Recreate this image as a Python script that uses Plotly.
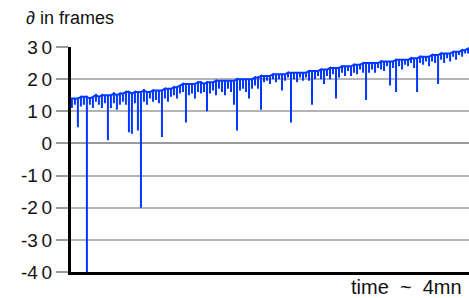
import plotly.graph_objects as go

# per time step (~1.8 s each): highest and lowest delay seen in that step, in frames
top_frames = [
    14, 14, 14, 14.5, 14.5, 14.5, 14, 14.5, 15, 14.5,
    15, 15, 15, 15, 15.5, 15, 15.5, 15.5, 16, 16,
    15.5, 16, 16, 16, 16.5, 16, 16, 16.5, 16.5, 16.5,
    16.5, 17, 17, 17, 17.5, 17.5, 18, 18.5, 18.5, 18.5,
    18.5, 18.5, 19, 19, 18.5, 19, 19, 19, 19.5, 19.5,
    19.5, 19.5, 19.5, 19.5, 19.5, 20, 20, 20, 20, 20,
    20, 20.5, 20.5, 21, 21, 21, 21, 21.5, 21.5, 21.5,
    21.5, 21.5, 22, 22, 22, 22, 22, 22, 22, 22.5,
    22.5, 22.5, 22.5, 23, 23, 23, 23.5, 23.5, 23.5, 23.5,
    24, 24, 24, 24, 24.5, 24.5, 24.5, 25, 25, 25,
    25, 25, 25, 25.5, 25.5, 25.5, 25.5, 25.5, 26, 26,
    26, 26, 26, 26.5, 26.5, 26.5, 27, 27, 27, 27,
    27.5, 27.5, 27.5, 28, 28, 28, 28, 28.5, 28.5, 28.5,
    29, 29, 29.5,
]
low_frames = [
    11, 12, 5, 11.5, 12, -40, 12, 11, 13, 12,
    11, 12.5, 1, 11, 12.5, 10.5, 12, 13, 12, 3.5,
    3, 12.5, 4, -20, 13, 12, 14, 13, 13.5, 12.5,
    2, 14, 13, 14.5, 15, 14, 15.5, 16, 6.5, 15,
    15.5, 14, 16, 15.5, 16, 10, 15.5, 16.5, 15, 17,
    16, 15, 17, 16, 12, 4, 16.5, 17, 16, 14,
    17, 18, 17, 10.5, 19, 19.5, 18.5, 20, 19, 20,
    16.5, 19.5, 20.5, 6.5, 20, 19, 20.5, 19.5, 20.5, 19.5,
    12, 20, 21, 20, 18.5, 21, 20, 21.5, 14, 20.5,
    22, 21, 22.5, 21, 22, 21.5, 23, 22, 13.5, 22,
    23, 22, 23.5, 23, 22.5, 24, 18, 23.5, 16, 24,
    23, 24.5, 24, 25, 23.5, 16, 25, 24.5, 25.5, 24,
    25.5, 25, 18.5, 26, 25, 26.5, 25.5, 27, 26, 27.5,
    27, 28, 28,
]
step_index = list(range(len(top_frames)))

y_ticks = [30, 20, 10, 0, -10, -20, -30, -40]
y_tick_labels = ["3\u20090", "2\u20090", "1\u20090", "0", "-1\u20090", "-2\u20090", "-3\u20090", "-4\u20090"]

# trace path: at each step go top -> low -> top, then on to the next step
path_x, path_y = [], []
for s, hi, lo in zip(step_index, top_frames, low_frames):
    path_x += [s, s, s]
    path_y += [hi, lo, hi]

fig = go.Figure()
fig.add_trace(go.Scatter(
    x=path_x, y=path_y, mode="lines",
    line=dict(color="#0038ff", width=2),
    hoverinfo="skip", showlegend=False,
))

font = "Liberation Sans, Arial, sans-serif"
fig.update_layout(
    width=469, height=298,
    margin=dict(l=71, r=0, t=47, b=26),
    paper_bgcolor="white", plot_bgcolor="white",
    font=dict(family=font, size=19, color="#111"),
    xaxis=dict(
        range=[-0.3, len(top_frames) - 0.7],
        showgrid=False, zeroline=False, showticklabels=False, ticks="",
        showline=True, linecolor="black", linewidth=3,
    ),
    yaxis=dict(
        range=[-40, 30], tickvals=y_ticks, ticktext=y_tick_labels,
        showgrid=True, gridcolor="#b4b4b4", gridwidth=2,
        zeroline=True, zerolinecolor="#999999", zerolinewidth=2,
        ticks="outside", ticklen=12, tickcolor="#999999", tickwidth=2,
        showline=True, linecolor="black", linewidth=3,
        tickfont=dict(size=19, color="#111"),
    ),
    annotations=[
        dict(text="\u2202 in frames", xref="paper", yref="paper",
             x=-0.118, y=1.13, xanchor="left", yanchor="middle",
             showarrow=False, font=dict(size=18, color="#111")),
        dict(text="time\u00a0\u00a0~\u00a0\u00a04mn", xref="paper", yref="paper",
             x=0.988, y=-0.068, xanchor="right", yanchor="middle",
             showarrow=False, font=dict(size=20, color="#111")),
    ],
)

fig.write_html("out.html", config={"displayModeBar": False},
               post_script="document.body.style.margin='0';")
